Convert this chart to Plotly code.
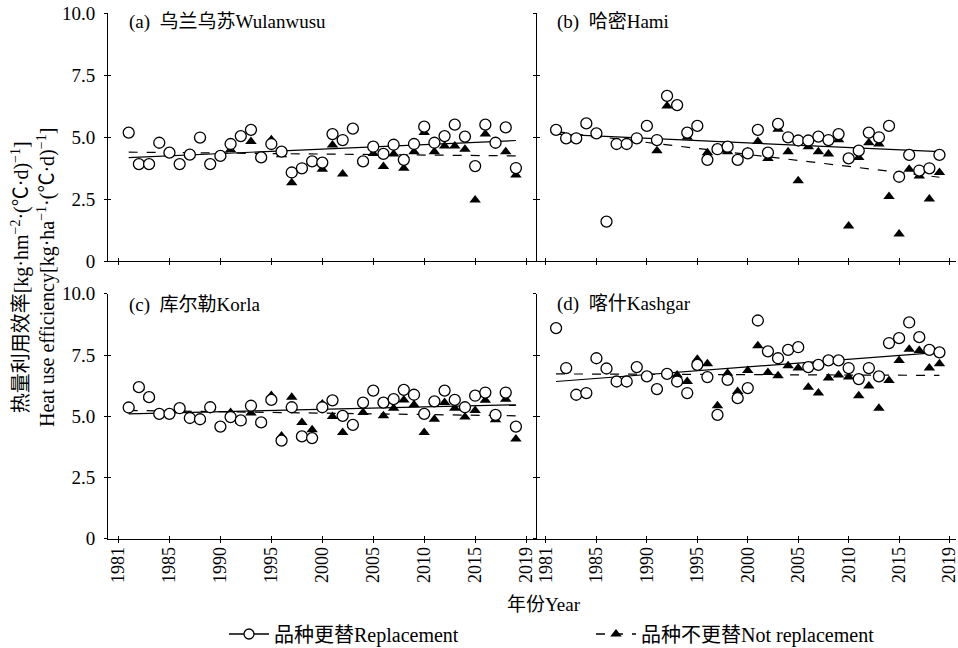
import plotly.graph_objects as go

years = list(range(1981, 2020))

# ---- data: heat use efficiency, replacement (circles) and not replacement (triangles)
rep_a = [5.19, 3.92, 3.92, 4.78, 4.38, 3.92, 4.30, 4.99, 3.92, 4.25, 4.73, 5.05, 5.30, 4.19, 4.73,
         4.42, 3.58, 3.75, 4.03, 3.98, 5.13, 4.89, 5.35, 4.03, 4.62, 4.33, 4.70, 4.09, 4.73, 5.43,
         4.78, 5.05, 5.51, 5.03, 3.84, 5.51, 4.78, 5.40, 3.76]
norep_a = [5.19, 3.92, 3.92, 4.78, 4.38, 3.92, 4.29, 4.99, 3.92, 4.25, 4.50, 5.05, 4.83, 4.19, 4.90,
           4.30, 3.17, 3.75, 4.03, 3.71, 4.69, 3.52, 5.35, 4.03, 4.35, 3.82, 4.33, 3.75, 4.42, 5.19,
           4.42, 4.65, 4.65, 4.52, 2.47, 5.13, 4.78, 4.42, 3.48]

rep_b = [5.30, 4.96, 4.96, 5.56, 5.16, 1.60, 4.73, 4.73, 4.96, 5.46, 4.89, 6.67, 6.30, 5.19, 5.46,
         4.09, 4.52, 4.62, 4.09, 4.35, 5.30, 4.38, 5.54, 5.00, 4.87, 4.87, 5.03, 4.89, 5.13, 4.15,
         4.46, 5.19, 5.00, 5.46, 3.41, 4.29, 3.66, 3.75, 4.29]
norep_b = [5.27, 5.00, 4.96, 5.56, 5.10, 1.60, 4.73, 4.73, 4.96, 5.46, 4.46, 6.26, 6.30, 5.00, 5.46,
           4.38, 4.50, 4.42, 4.09, 4.42, 4.83, 4.15, 5.32, 4.42, 3.25, 4.62, 4.42, 4.33, 4.90, 1.42,
           4.19, 4.78, 4.73, 2.61, 1.10, 3.71, 3.44, 2.51, 3.58]

rep_c = [5.36, 6.19, 5.78, 5.10, 5.10, 5.33, 4.93, 4.88, 5.37, 4.58, 4.97, 4.83, 5.43, 4.75, 5.67,
         4.01, 5.37, 4.18, 4.11, 5.37, 5.65, 5.02, 4.65, 5.56, 6.05, 5.56, 5.70, 6.08, 5.88, 5.10,
         5.61, 6.05, 5.67, 5.37, 5.84, 5.97, 5.06, 5.97, 4.58]
norep_c = [5.36, 6.19, 5.78, 5.10, 5.10, 5.33, 4.93, 4.88, 5.37, 4.58, 5.16, 4.79, 5.13, 4.75, 5.85,
           4.20, 5.78, 4.75, 4.45, 5.50, 4.99, 4.34, 4.65, 5.16, 6.05, 5.02, 5.33, 5.67, 5.47, 4.34,
           4.88, 5.56, 5.33, 4.97, 5.24, 5.65, 4.86, 5.70, 4.07]

rep_d = [8.60, 6.97, 5.88, 5.95, 7.37, 6.95, 6.42, 6.42, 7.01, 6.63, 6.11, 6.73, 6.42, 5.95, 7.10,
         6.60, 5.06, 6.49, 5.74, 6.15, 8.91, 7.65, 7.37, 7.71, 7.82, 7.01, 7.10, 7.28, 7.28, 6.97,
         6.52, 6.97, 6.63, 7.99, 8.19, 8.83, 8.23, 7.71, 7.61]
norep_d = [8.60, 6.97, 5.88, 5.95, 7.37, 6.95, 6.42, 6.42, 7.01, 6.63, 6.11, 6.73, 6.69, 6.42, 7.33,
           7.14, 5.43, 6.76, 6.01, 6.87, 7.88, 6.79, 6.65, 7.06, 6.97, 6.19, 5.95, 6.56, 6.69, 6.60,
           5.84, 6.24, 5.33, 6.46, 7.28, 7.74, 7.69, 6.97, 7.14]

# linear trend lines (start / end values)
trend_years = [1981, 2019]
trend_rep_a, trend_norep_a = [4.18, 4.87], [4.40, 4.25]
trend_rep_b, trend_norep_b = [5.13, 4.42], [5.23, 3.39]
trend_rep_c, trend_norep_c = [5.10, 5.47], [5.24, 5.02]
trend_rep_d, trend_norep_d = [6.42, 7.61], [6.73, 6.67]

panel_titles = ["(a)\u00a0\u00a0乌兰乌苏Wulanwusu", "(b)\u00a0\u00a0哈密Hami",
                "(c)\u00a0\u00a0库尔勒Korla", "(d)\u00a0\u00a0喀什Kashgar"]

x_tickvals = [1980, 1985, 1990, 1995, 2000, 2005, 2010, 2015, 2020]
x_ticktext = ["1981", "1985", "1990", "1995", "2000", "2005", "2010", "2015", "2019"]
y_tickvals = [0, 2.5, 5, 7.5, 10]
y_ticktext = ["0", "2.5", "5.0", "7.5", "10.0"]

legend_names = ["品种更替Replacement", "品种不更替Not replacement"]
x_title = "年份Year"
y_title = ("热量利用效率[kg·hm<sup>−2</sup>·(℃·d)<sup>−1</sup>]<br>"
           "Heat use efficiency[kg·ha<sup>−1</sup>·(℃·d)<sup>−1</sup>]")

FONT = "Liberation Serif, Times New Roman, Noto Sans CJK SC, serif"
W, H = 958, 648

def fx(px):
    return px / W

def fy(py):
    return 1 - py / H

left_dom = [fx(108), fx(537)]
right_dom = [fx(537), fx(956)]
top_dom = [fy(261.3), fy(13.3)]
bot_dom = [fy(538.8), fy(293.8)]
left_rng = [1978.97, 2021.07]
right_rng = [1979.11, 2020.64]

panels = [
    dict(xd=left_dom, yd=top_dom, xr=left_rng, rep=rep_a, nrep=norep_a,
         tr=trend_rep_a, tn=trend_norep_a, xlab=False, ylab=True, tx=127, ty=21.7),
    dict(xd=right_dom, yd=top_dom, xr=right_rng, rep=rep_b, nrep=norep_b,
         tr=trend_rep_b, tn=trend_norep_b, xlab=False, ylab=False, tx=555, ty=21.7),
    dict(xd=left_dom, yd=bot_dom, xr=left_rng, rep=rep_c, nrep=norep_c,
         tr=trend_rep_c, tn=trend_norep_c, xlab=True, ylab=True, tx=127, ty=305),
    dict(xd=right_dom, yd=bot_dom, xr=right_rng, rep=rep_d, nrep=norep_d,
         tr=trend_rep_d, tn=trend_norep_d, xlab=True, ylab=False, tx=555, ty=303.5),
]

fig = go.Figure()
layout = {}
annotations = []
TL = 3

for i, p in enumerate(panels, start=1):
    xa, ya = f"x{i}", f"y{i}"
    xo, yo = f"x{i+4}", f"y{i+4}"
    # trend lines
    fig.add_trace(go.Scatter(x=trend_years, y=p["tr"], mode="lines", xaxis=xa, yaxis=ya,
                             line=dict(color="black", width=1.2), showlegend=False, hoverinfo="skip"))
    fig.add_trace(go.Scatter(x=trend_years, y=p["tn"], mode="lines", xaxis=xa, yaxis=ya,
                             line=dict(color="black", width=1.2, dash="dash"), showlegend=False,
                             hoverinfo="skip"))
    # triangles
    fig.add_trace(go.Scatter(x=years, y=p["nrep"], mode="markers", xaxis=xa, yaxis=ya,
                             marker=dict(symbol="triangle-up", size=10, color="black",
                                         line=dict(width=0)), showlegend=False))
    # circles
    fig.add_trace(go.Scatter(x=years, y=p["rep"], mode="markers", xaxis=xa, yaxis=ya,
                             marker=dict(symbol="circle", size=11, color="white",
                                         line=dict(color="black", width=1.3)), showlegend=False))
    # empty trace for the overlay axes (crossing ticks)
    fig.add_trace(go.Scatter(x=[None], y=[None], xaxis=xo, yaxis=yo, showlegend=False,
                             hoverinfo="skip"))

    sfx = "" if i == 1 else str(i)
    sfxo = str(i + 4)
    layout["xaxis" + sfx] = dict(
        domain=p["xd"], range=p["xr"], anchor=ya, showline=True, linecolor="black", linewidth=1,
        ticks="inside", ticklen=TL, tickcolor="black", tickvals=x_tickvals, ticktext=x_ticktext,
        showticklabels=p["xlab"], tickangle=-90, showgrid=False, zeroline=False, automargin=False,
        ticklabeloverflow="allow", tickfont=dict(family=FONT, size=18, color="black"))
    layout["yaxis" + sfx] = dict(
        domain=p["yd"], range=[0, 10], anchor=xa, showline=True, linecolor="black", linewidth=1,
        ticks="inside", ticklen=TL, tickcolor="black", tickvals=y_tickvals, ticktext=y_ticktext,
        showticklabels=p["ylab"], showgrid=False, zeroline=False, automargin=False,
        ticklabelstandoff=8, ticklabeloverflow="allow",
        tickfont=dict(family=FONT, size=19, color="black"))
    layout["xaxis" + sfxo] = dict(
        overlaying=xa, domain=p["xd"], range=p["xr"], anchor=ya, showline=False,
        ticks="outside", ticklen=TL, tickcolor="black", tickvals=x_tickvals, automargin=False,
        showticklabels=False, showgrid=False, zeroline=False)
    layout["yaxis" + sfxo] = dict(
        overlaying=ya, domain=p["yd"], range=[0, 10], anchor=xa, showline=False,
        ticks="outside", ticklen=TL, tickcolor="black", tickvals=y_tickvals, automargin=False,
        showticklabels=False, showgrid=False, zeroline=False)

    annotations.append(dict(text=panel_titles[i - 1], x=fx(p["tx"]), y=fy(p["ty"]),
                            xref="paper", yref="paper", xanchor="left", yanchor="middle",
                            showarrow=False, font=dict(family=FONT, size=19, color="black")))

# legend entries
fig.add_trace(go.Scatter(x=[None], y=[None], mode="lines+markers", name=legend_names[0],
                         xaxis="x1", yaxis="y1",
                         line=dict(color="black", width=1.3),
                         marker=dict(symbol="circle", size=10, color="white",
                                     line=dict(color="black", width=1.3))))
fig.add_trace(go.Scatter(x=[None], y=[None], mode="lines+markers", name=legend_names[1],
                         xaxis="x1", yaxis="y1",
                         line=dict(color="black", width=1.3, dash="dash"),
                         marker=dict(symbol="triangle-up", size=10, color="black")))

annotations.append(dict(text=x_title, x=fx(544), y=fy(604), xref="paper", yref="paper",
                        xanchor="center", yanchor="middle", showarrow=False,
                        font=dict(family=FONT, size=19, color="black")))
annotations.append(dict(text=y_title, x=fx(33), y=fy(278), xref="paper", yref="paper",
                        xanchor="center", yanchor="middle", showarrow=False, textangle=-90,
                        font=dict(family=FONT, size=20, color="black")))

fig.update_layout(
    width=W, height=H, margin=dict(l=0, r=0, t=0, b=0, autoexpand=False),
    paper_bgcolor="white", plot_bgcolor="white",
    font=dict(family=FONT, size=18, color="black"),
    showlegend=True,
    legend=dict(orientation="h", x=fx(224), y=fy(634), xanchor="left", yanchor="middle",
                entrywidth=312, entrywidthmode="pixels", itemwidth=40,
                bgcolor="rgba(0,0,0,0)", tracegroupgap=0,
                font=dict(family=FONT, size=20, color="black"), itemclick=False),
    annotations=annotations,
    **layout,
)

fig.write_html("out.html")
